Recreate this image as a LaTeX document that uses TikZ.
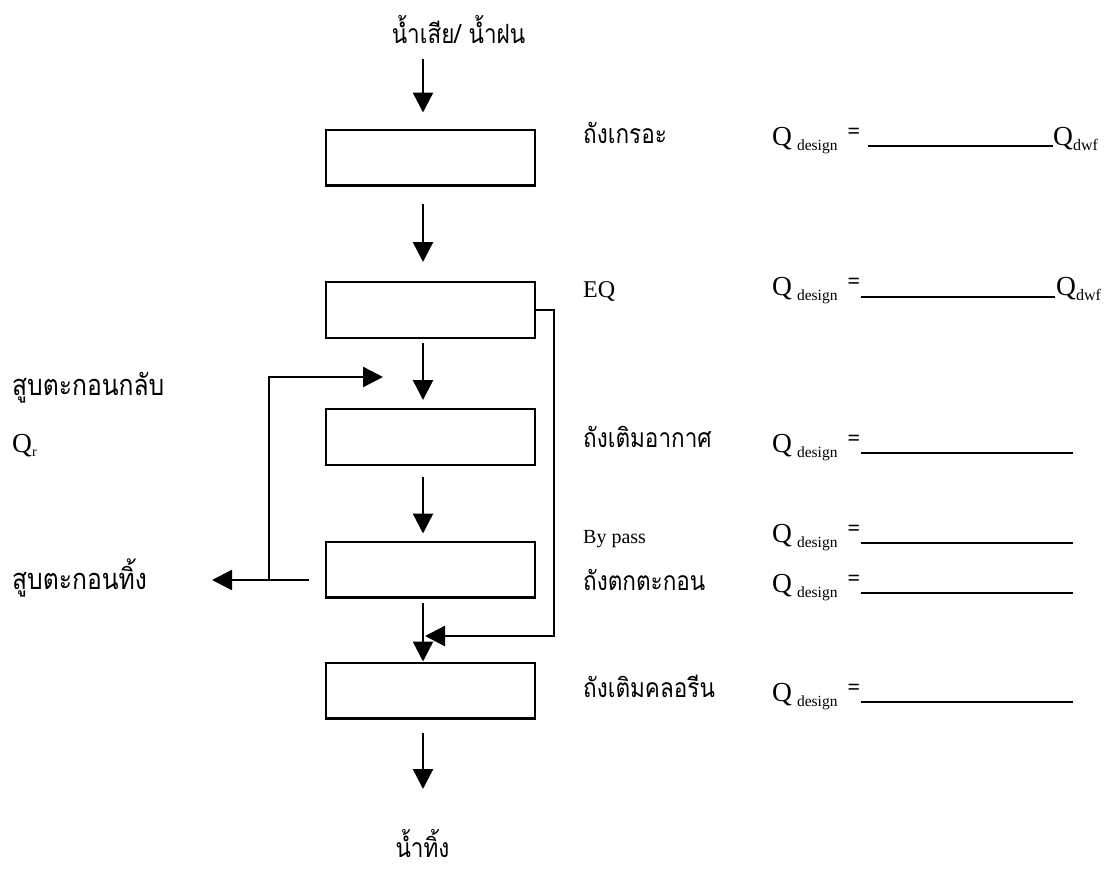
\documentclass[tikz,border=0pt]{standalone}
\usepackage{fontspec}
\setmainfont{Liberation Serif}
\newfontfamily\thai[Script=Thai,FakeStretch=0.85]{Loma}
\usetikzlibrary{arrows.meta}
\newcommand\qdes{Q\hspace{5pt}\raisebox{-5pt}{\fontsize{15.5}{16}\selectfont design}}
\newcommand\qdwf{Q\raisebox{-5pt}{\fontsize{16}{17}\selectfont dwf}}
\begin{document}
\begin{tikzpicture}[x=1pt,y=-1pt,
  tank/.style={draw,line width=2.4pt,minimum width=208.6pt,minimum height=55.6pt,inner sep=0pt},
  flow/.style={line width=2.4pt,-{Triangle[width=20pt,length=20pt]}},
  th/.style={font=\thai\fontsize{26.5}{30}\selectfont,inner sep=0pt},
  thl/.style={font=\thai\fontsize{29}{33}\selectfont,inner sep=0pt},
  lat/.style={font=\fontsize{24}{28}\selectfont,inner sep=0pt},
  qd/.style={anchor=base west,inner sep=0pt,font=\fontsize{27.5}{31}\selectfont},
  eqs/.style={inner sep=0pt,font=\bfseries\fontsize{22}{26}\selectfont},
  blank/.style={line width=1.2pt}]
\useasboundingbox (0,0) rectangle (1106,868);

% treatment tanks
\node[tank] (grit) at (430.5,157.5) {};
\node[tank] (eq)   at (430.5,310) {};
\node[tank] (aer)  at (430.5,437) {};
\node[tank] (clar) at (430.5,569.5) {};
\node[tank] (chl)  at (430.5,690.5) {};

% main flow line
\coordinate (ax) at (423,0);
\node[th,anchor=base] (inflow) at (458.5,43) {น้ำเสีย/ น้ำฝน};
\node[th,anchor=base] (effl) at (422.5,857) {น้ำทิ้ง};
\coordinate (instart) at (423,59);
\coordinate (outend) at (423,789);
\draw[flow,shorten >=16pt] (instart) -- (grit.north -| ax);
\draw[flow,shorten <=17pt,shorten >=19pt] (grit.south -| ax) -- (eq.north -| ax);
\draw[flow,shorten <=4pt,shorten >=8pt] (eq.south -| ax) -- (aer.north -| ax);
\draw[flow,shorten <=11pt,shorten >=7pt] (aer.south -| ax) -- (clar.north -| ax);
\draw[flow,shorten <=4pt] (clar.south -| ax) -- (chl.north -| ax);
\draw[flow,shorten <=13pt] (chl.south -| ax) -- (outend);

% by-pass around aeration and settling
\coordinate (bycorner) at (554,636);
\coordinate (bymerge) at (425,636);
\draw[flow] (eq.east) -| (bycorner) -- (bymerge);

% sludge return and waste
\coordinate (sludge) at (309,580);
\coordinate (wasteend) at (212,580);
\coordinate (retjoin) at (269,580);
\coordinate (rettip) at (383,377);
\draw[flow] (sludge) -- (wasteend);
\draw[flow] (retjoin) |- (rettip);

% tank names
\node[th,anchor=base west] (lgrit) at (583,143) {ถังเกรอะ};
\node[lat,anchor=base west] (leq) at (583,297) {EQ};
\node[th,anchor=base west] (laer) at (583,447) {ถังเติมอากาศ};
\node[inner sep=0pt,font=\fontsize{20}{24}\selectfont,anchor=base west] (lby) at (583,543) {By pass};
\node[th,anchor=base west] (lclar) at (583,590) {ถังตกตะกอน};
\node[th,anchor=base west] (lchl) at (583,697) {ถังเติมคลอรีน};

% left side labels
\node[thl,anchor=base west] (lret) at (12,395) {สูบตะกอนกลับ};
\node[qd] (lqr) at (12,452) {Q\raisebox{-4pt}{\fontsize{14}{14}\selectfont r}};
\node[thl,anchor=base west] (lwas) at (12,589) {สูบตะกอนทิ้ง};

% design flow blanks
\node[qd] (q1) at (772,145) {\qdes};
\node[eqs] (e1) at (854,133) {=};
\draw[blank] (868,146) -- (1053,146);
\node[qd] (d1) at (1053,145) {\qdwf};

\node[qd] (q2) at (772,295) {\qdes};
\node[eqs] (e2) at (854,283) {=};
\draw[blank] (861,297) -- (1055,297);
\node[qd] (d2) at (1056,295) {\qdwf};

\node[qd] (q3) at (772,452) {\qdes};
\node[eqs] (e3) at (854,440) {=};
\draw[blank] (861,453) -- (1073,453);

\node[qd] (q4) at (772,542) {\qdes};
\node[eqs] (e4) at (854,530) {=};
\draw[blank] (861,543) -- (1073,543);

\node[qd] (q5) at (772,592) {\qdes};
\node[eqs] (e5) at (854,580) {=};
\draw[blank] (861,593) -- (1073,593);

\node[qd] (q6) at (772,701) {\qdes};
\node[eqs] (e6) at (854,689) {=};
\draw[blank] (861,702) -- (1073,702);
\end{tikzpicture}
\end{document}
